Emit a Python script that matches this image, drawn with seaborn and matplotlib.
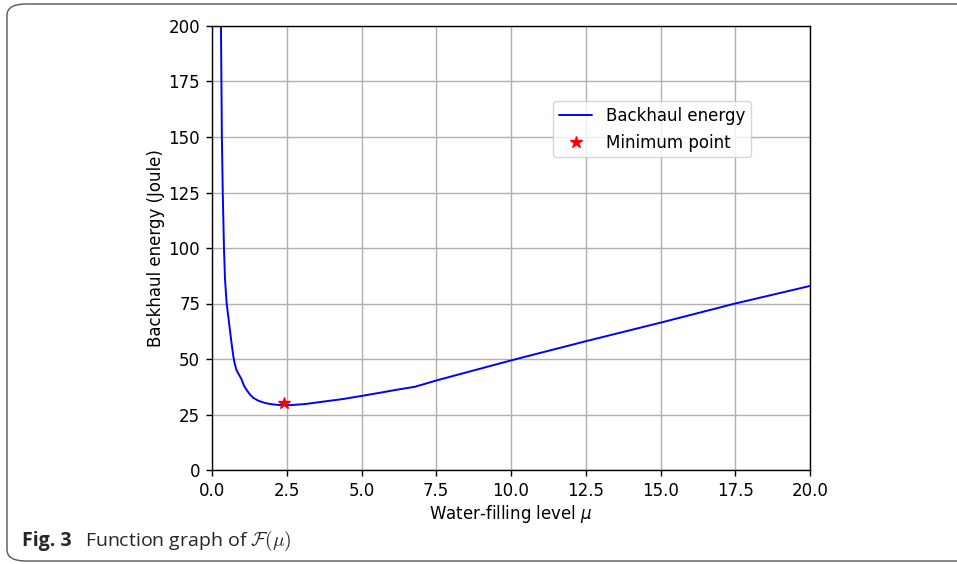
import matplotlib
matplotlib.use("Agg")
import matplotlib.pyplot as plt
import seaborn as sns
import pandas as pd
from matplotlib.patches import FancyBboxPatch

# ---- data ----
mu = [0.28, 0.30, 0.33, 0.36, 0.40, 0.435, 0.49, 0.55, 0.60, 0.66, 0.71, 0.76,
      0.82, 0.90, 0.99, 1.07, 1.16, 1.27, 1.38, 1.55, 1.77, 2.00, 2.22, 2.60,
      3.11, 3.72, 4.40, 5.06, 5.62, 6.20, 6.79, 7.55, 10.04, 12.53, 15.04,
      17.5, 20.0]
energy = [260, 200, 150, 125, 100, 86, 75, 68.5, 63, 56.5, 51.5, 47.8,
          45, 43, 40.8, 38, 36, 34, 32.5, 31.2, 30.2, 29.6, 29.3, 29.2,
          29.7, 30.8, 32.0, 33.5, 34.8, 36.2, 37.5, 40.5, 49.5, 58.1, 66.5,
          75.0, 82.9]
min_mu = [2.4]
min_energy = [30.0]

x_ticks = [0.0, 2.5, 5.0, 7.5, 10.0, 12.5, 15.0, 17.5, 20.0]
y_ticks = [0, 25, 50, 75, 100, 125, 150, 175, 200]

df = pd.DataFrame({"mu": mu, "energy": energy})
dmin = pd.DataFrame({"mu": min_mu, "energy": min_energy})

sns.set_theme(style="ticks")
plt.rcParams["font.family"] = ["DejaVu Sans"]

fig = plt.figure(figsize=(9.57, 5.64), dpi=100)
ax = fig.add_axes([212/957, 1-470/564, (810-212)/957, (470-26)/564])

sns.lineplot(data=df, x="mu", y="energy", ax=ax, color="#0000ff", linewidth=1.4,
             sort=False, estimator=None, label="Backhaul energy")
ax.plot(dmin["mu"], dmin["energy"], linestyle="none", marker="*", markersize=9,
        color="red", label="Minimum point", zorder=5)

ax.set_xlim(0, 20)
ax.set_ylim(0, 200)
ax.set_xticks(x_ticks)
ax.set_xticklabels([f"{t:.1f}" for t in x_ticks])
ax.set_yticks(y_ticks)
ax.set_yticklabels([str(t) for t in y_ticks])
ax.tick_params(labelsize=12, length=4.5, width=1, colors="black", pad=4)
ax.grid(True, color="#b0b0b0", linewidth=1.0)
ax.set_axisbelow(True)
for s in ax.spines.values():
    s.set_visible(True)
    s.set_color("black")
    s.set_linewidth(1.0)

ax.set_xlabel("Water-filling level $\\mu$", fontsize=12, labelpad=2, color="black")
ax.set_ylabel("Backhaul energy (Joule)", fontsize=12, labelpad=2.5, color="black")

leg = ax.legend(loc="upper right", bbox_to_anchor=(0.915, 0.849), fontsize=12,
                frameon=True, borderpad=0.35, handlelength=2.0)
leg.get_frame().set_edgecolor("#cccccc")
leg.get_frame().set_linewidth(1.0)
for t in leg.get_texts():
    t.set_color("black")

# figure frame (rounded box, extends past the right edge)
box = FancyBboxPatch((7/957, 1-561/564), 1.1, (561-4)/564,
                     boxstyle="round,pad=0,rounding_size=0.02",
                     transform=fig.transFigure, fill=False,
                     edgecolor="#555555", linewidth=1.0, clip_on=False)
fig.patches.append(box)

fig.text(22/957, 1-541/564, "Fig. 3", fontsize=14, fontweight="bold",
         family="Open Sans", va="center", ha="left")
fig.text(85/957, 1-541/564, "Function graph of $\\mathcal{F}(\\mu)$", fontsize=14,
         family="Open Sans", va="center", ha="left", math_fontfamily="cm")

fig.savefig("out.png", dpi=100)
